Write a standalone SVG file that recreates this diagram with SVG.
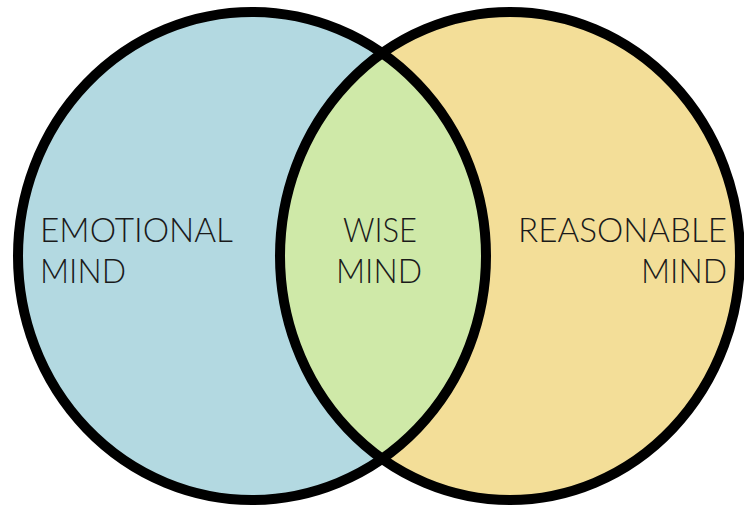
<svg xmlns="http://www.w3.org/2000/svg" width="744" height="507" viewBox="0 0 744 507">
<style>
.lbl{font-family:"Lato","Open Sans","DejaVu Sans",sans-serif;font-weight:300;font-size:34px;fill:#1a1a1a}
.ring{fill:none;stroke:#000;stroke-width:10}
</style>
<defs>
<clipPath id="clipL"><ellipse cx="252" cy="256" rx="234" ry="244"/></clipPath>
</defs>
<rect width="744" height="507" fill="#fff"/>
<g id="emotional">
<ellipse cx="252" cy="256" rx="234" ry="244" fill="#b3d9e1"/>
</g>
<g id="reasonable">
<ellipse cx="510" cy="256" rx="230" ry="244" fill="#f3de98"/>
</g>
<g id="wise">
<ellipse cx="510" cy="256" rx="230" ry="244" fill="#cfe9a8" clip-path="url(#clipL)"/>
</g>
<g id="connectors">
<ellipse class="ring" cx="252" cy="256" rx="234" ry="244"/>
<ellipse class="ring" cx="510" cy="256" rx="230" ry="244"/>
</g>
<g id="labels">
<text class="lbl" x="40" y="242" textLength="193" lengthAdjust="spacingAndGlyphs">EMOTIONAL</text>
<text class="lbl" x="40" y="283" textLength="86" lengthAdjust="spacingAndGlyphs">MIND</text>
<text class="lbl" x="343" y="242" textLength="74" lengthAdjust="spacingAndGlyphs">WISE</text>
<text class="lbl" x="336" y="283" textLength="86" lengthAdjust="spacingAndGlyphs">MIND</text>
<text class="lbl" x="518" y="242" textLength="209" lengthAdjust="spacingAndGlyphs">REASONABLE</text>
<text class="lbl" x="641" y="283" textLength="86" lengthAdjust="spacingAndGlyphs">MIND</text>
</g>
</svg>
